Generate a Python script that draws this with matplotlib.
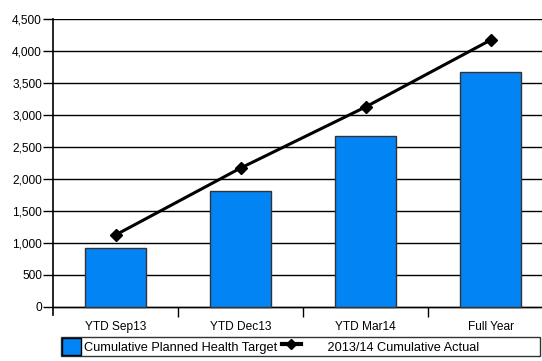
import matplotlib
matplotlib.use("Agg")
from matplotlib import pyplot as plt
from matplotlib.lines import Line2D
from matplotlib.patches import Patch

categories = ["YTD Sep13", "YTD Dec13", "YTD Mar14", "Full Year"]
planned_target = [920, 1820, 2670, 3670]
cumulative_actual = [1125, 2170, 3125, 4170]
y_ticks = [0, 500, 1000, 1500, 2000, 2500, 3000, 3500, 4000, 4500]

plt.rcParams['font.family'] = ['Liberation Sans', 'DejaVu Sans']
plt.rcParams['font.size'] = 8.6

fig = plt.figure(figsize=(5.42, 3.61), dpi=100)
ax = fig.add_axes([53 / 542, 1 - 315.3 / 361, 500 / 542, 296.3 / 361])

x = range(len(categories))
ax.bar(x, planned_target, width=0.49, color='#0284F4',
       edgecolor='#333333', linewidth=1, zorder=3)
ax.plot(x, cumulative_actual, '-D', color='black', linewidth=2.2,
        markersize=6.5, zorder=4)

ax.set_xlim(-0.5, 3.5)
ax.set_ylim(-130, 4500)
ax.set_yticks(y_ticks)
ax.set_yticklabels([f'{v:,}' for v in y_ticks])
ax.yaxis.grid(True, color='black', linewidth=1, zorder=0)
ax.tick_params(axis='y', length=7, width=1, pad=1, colors='black')

ax.set_xticks(list(x))
ax.set_xticklabels(categories)
ax.set_xticks([0.5, 1.5, 2.5], minor=True)
ax.tick_params(axis='x', which='major', length=0, pad=10)
ax.tick_params(axis='x', which='minor', length=7, width=1)

for side in ['top', 'right']:
    ax.spines[side].set_visible(False)
ax.spines['bottom'].set_position(('data', 0))
ax.spines['left'].set_linewidth(1.2)
ax.spines['bottom'].set_linewidth(1)

handles = [
    Patch(facecolor='#0284F4', edgecolor='black', linewidth=1),
    Line2D([], [], color='black', linewidth=3, marker='D', markersize=5.5),
]
labels = ["Cumulative Planned Health Target",
          "       2013/14 Cumulative Actual                 "]
fig.legend(handles, labels, loc='upper left', bbox_to_anchor=(61 / 542, 1 - 337 / 361),
           ncol=2, frameon=True, fancybox=False, edgecolor='black',
           handlelength=1.5, handleheight=1.6, handletextpad=0.2,
           columnspacing=0.35, borderpad=0.1, borderaxespad=0, fontsize=9.2)

fig.savefig('out.png', dpi=100)
